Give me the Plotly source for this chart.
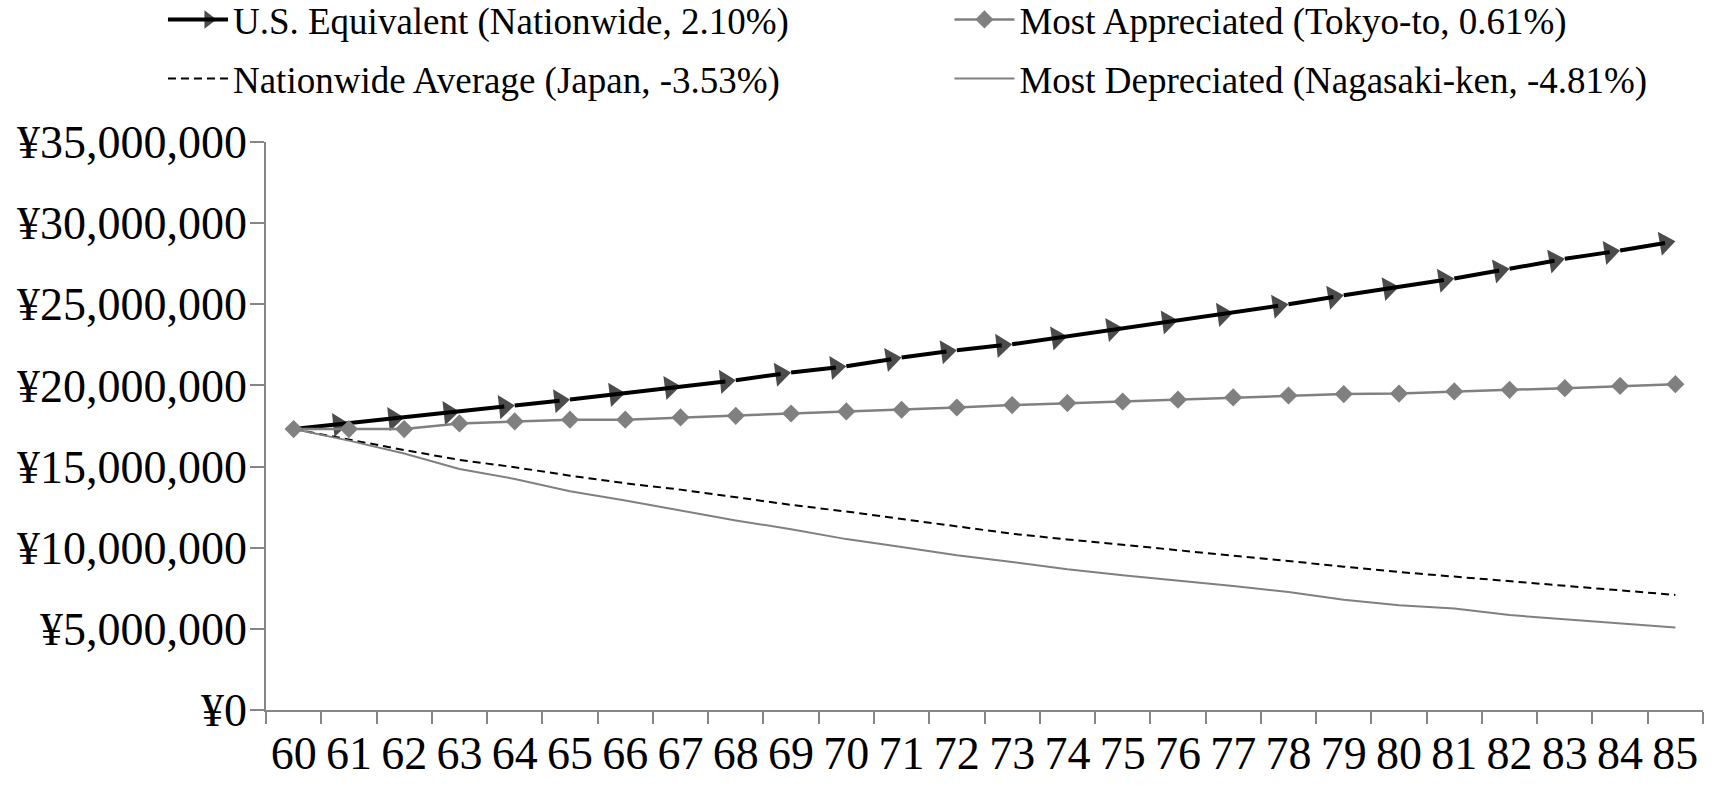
import plotly.graph_objects as go

ages = [str(a) for a in range(60, 86)]

us_equivalent = [17.31, 17.66, 18.03, 18.40, 18.77, 19.13, 19.53, 19.97, 20.32, 20.80,
                 21.18, 21.72, 22.17, 22.54, 23.03, 23.56, 24.01, 24.48, 25.00, 25.56,
                 26.08, 26.59, 27.19, 27.80, 28.31, 28.89]
most_appreciated = [17.31, 17.31, 17.31, 17.66, 17.78, 17.89, 17.89, 18.03, 18.13, 18.27,
                    18.40, 18.50, 18.64, 18.79, 18.91, 19.01, 19.12, 19.26, 19.38, 19.47,
                    19.50, 19.63, 19.73, 19.83, 19.97, 20.08]
nationwide_avg = [17.31, 16.66, 16.02, 15.41, 14.96, 14.44, 13.97, 13.58, 13.11, 12.64,
                  12.23, 11.78, 11.31, 10.86, 10.51, 10.18, 9.88, 9.53, 9.18, 8.83,
                  8.50, 8.22, 7.93, 7.65, 7.38, 7.09]
most_depreciated = [17.31, 16.60, 15.81, 14.85, 14.24, 13.48, 12.91, 12.29, 11.68, 11.14,
                    10.53, 10.04, 9.53, 9.12, 8.67, 8.30, 7.99, 7.64, 7.27, 6.80,
                    6.45, 6.25, 5.85, 5.60, 5.35, 5.08]

def yen(vals):
    return [v * 1_000_000 for v in vals]

GREY = "#808080"
AXIS = "#868686"
FONT = "Liberation Serif"
ARROW = 21

fig = go.Figure()

fig.add_trace(go.Scatter(
    x=ages, y=yen(nationwide_avg), name="Nationwide Average (Japan, -3.53%)",
    mode="lines", line=dict(color="black", width=2, dash="8px,5px"),
    legend="legend", legendrank=2, legendgroup="c"))
fig.add_trace(go.Scatter(
    x=ages, y=yen(most_depreciated), name="Most Depreciated (Nagasaki-ken, -4.81%)",
    mode="lines", line=dict(color=GREY, width=2),
    legend="legend2", legendrank=2, legendgroup="d"))
fig.add_trace(go.Scatter(
    x=ages, y=yen(us_equivalent), name="U.S. Equivalent (Nationwide, 2.10%)",
    mode="lines+markers", line=dict(color="black", width=4),
    marker=dict(symbol="triangle-up", size=[0] + [ARROW] * (len(ages) - 1),
                angleref="previous", standoff=ARROW / 2, color="black",
                line=dict(width=0)),
    legend="legend", legendrank=1, legendgroup="a"))
fig.add_trace(go.Scatter(
    x=ages, y=yen(most_appreciated), name="Most Appreciated (Tokyo-to, 0.61%)",
    mode="lines+markers", line=dict(color=GREY, width=2.5),
    marker=dict(symbol="diamond", size=14, color=GREY, line=dict(width=0)),
    legend="legend2", legendrank=1, legendgroup="b"))

legend_common = dict(
    orientation="v", font=dict(family=FONT, size=37, color="black"),
    xref="paper", yref="paper", yanchor="top", y=1.2695,
    bgcolor="rgba(0,0,0,0)", tracegroupgap=8, itemwidth=60, traceorder="grouped")

fig.update_layout(
    width=1717, height=785,
    margin=dict(l=266, r=14, t=142, b=75, autoexpand=False),
    plot_bgcolor="white", paper_bgcolor="white",
    font=dict(family=FONT, color="black"),
    showlegend=True,
    legend=dict(x=-0.0717, xanchor="left", **legend_common),
    legend2=dict(x=0.4756, xanchor="left", **legend_common),
    xaxis=dict(type="category", range=[-0.5, len(ages) - 0.5], tickmode="linear", dtick=1,
               tick0=0, tickson="boundaries", ticks="outside", ticklen=12,
               tickcolor=AXIS, tickwidth=1.5, showline=True, linecolor=AXIS, linewidth=1.5,
               showgrid=False, zeroline=False, tickangle=0, automargin=False,
               ticklabelstandoff=2,
               tickfont=dict(family=FONT, size=46, color="black")),
    yaxis=dict(range=[0, 35_000_000], dtick=5_000_000, tick0=0, tickprefix="¥",
               tickformat=",d", ticks="outside", ticklen=14, tickcolor=AXIS, tickwidth=1.5,
               showline=True, linecolor=AXIS, linewidth=1.5, showgrid=False, zeroline=False,
               automargin=False, ticklabelstandoff=-6,
               tickfont=dict(family=FONT, size=46, color="black")),
)

fig.write_html("out.html")
